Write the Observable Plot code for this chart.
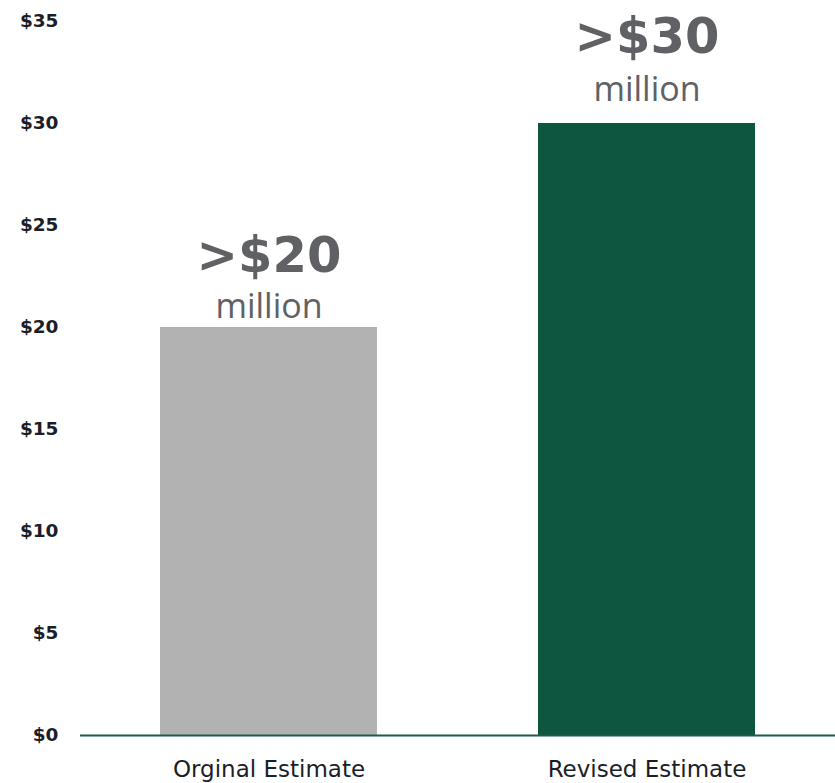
<!DOCTYPE html>
<html>
<head>
<meta charset="utf-8">
<script src="https://cdn.jsdelivr.net/npm/d3@7"></script>
<script src="https://cdn.jsdelivr.net/npm/@observablehq/plot@0.6"></script>
<style>
  html, body { margin: 0; padding: 0; background: #fff; }
  #chart svg { display: block; }
</style>
</head>
<body>
<div id="chart"></div>
<script>
const categories = ["Orginal Estimate", "Revised Estimate"];
const values = [20, 30];
const bigLabels = [">$20", ">$30"];
const unitLabels = ["million", "million"];
const yTicks = [0, 5, 10, 15, 20, 25, 30, 35];

const data = categories.map((c, i) => ({category: c, value: values[i], big: bigLabels[i], unit: unitLabels[i]}));

const annColor = "#606165";

const plot = Plot.plot({
  width: 835,
  height: 783,
  marginTop: 21,
  marginBottom: 48,
  marginLeft: 80,
  marginRight: 0,
  style: {fontFamily: "DejaVu Sans", background: "#fff"},
  x: {domain: categories, paddingInner: 0.427, paddingOuter: 0.21},
  y: {domain: [0, 35]},
  color: {domain: categories, range: ["#b1b2b1", "#0e5640"]},
  marks: [
    Plot.barY(data, {x: "category", y: "value", fill: "category"}),
    Plot.ruleY([0], {stroke: "#1a5e45", strokeWidth: 2}),
    Plot.axisY({ticks: yTicks, tickFormat: d => "$" + d, tickSize: 0, tickPadding: 22,
      fontSize: 18.5, fontWeight: "bold", fill: "#1b1e27", fontFamily: "DejaVu Sans", label: null}),
    Plot.axisX({tickSize: 0, tickPadding: 25, fontSize: 23, fill: "#1b1e27", fontFamily: "DejaVu Sans", label: null}),
    // annotations for first bar
    Plot.text(data.filter(d => d.category === categories[0]), {x: "category", y: "value", text: "big",
      lineAnchor: "bottom", dy: -56, fontSize: 49.5, fontWeight: "bold", fill: annColor, fontFamily: "DejaVu Sans"}),
    Plot.text(data.filter(d => d.category === categories[0]), {x: "category", y: "value", text: "unit",
      lineAnchor: "bottom", dy: -10, fontSize: 34, fill: annColor, fontFamily: "Open Sans"}),
    // annotations for second bar
    Plot.text(data.filter(d => d.category === categories[1]), {x: "category", y: "value", text: "big",
      lineAnchor: "bottom", dy: -71, fontSize: 49.5, fontWeight: "bold", fill: annColor, fontFamily: "DejaVu Sans"}),
    Plot.text(data.filter(d => d.category === categories[1]), {x: "category", y: "value", text: "unit",
      lineAnchor: "bottom", dy: -23, fontSize: 34, fill: annColor, fontFamily: "Open Sans"})
  ]
});
document.getElementById("chart").appendChild(plot);
</script>
</body>
</html>
